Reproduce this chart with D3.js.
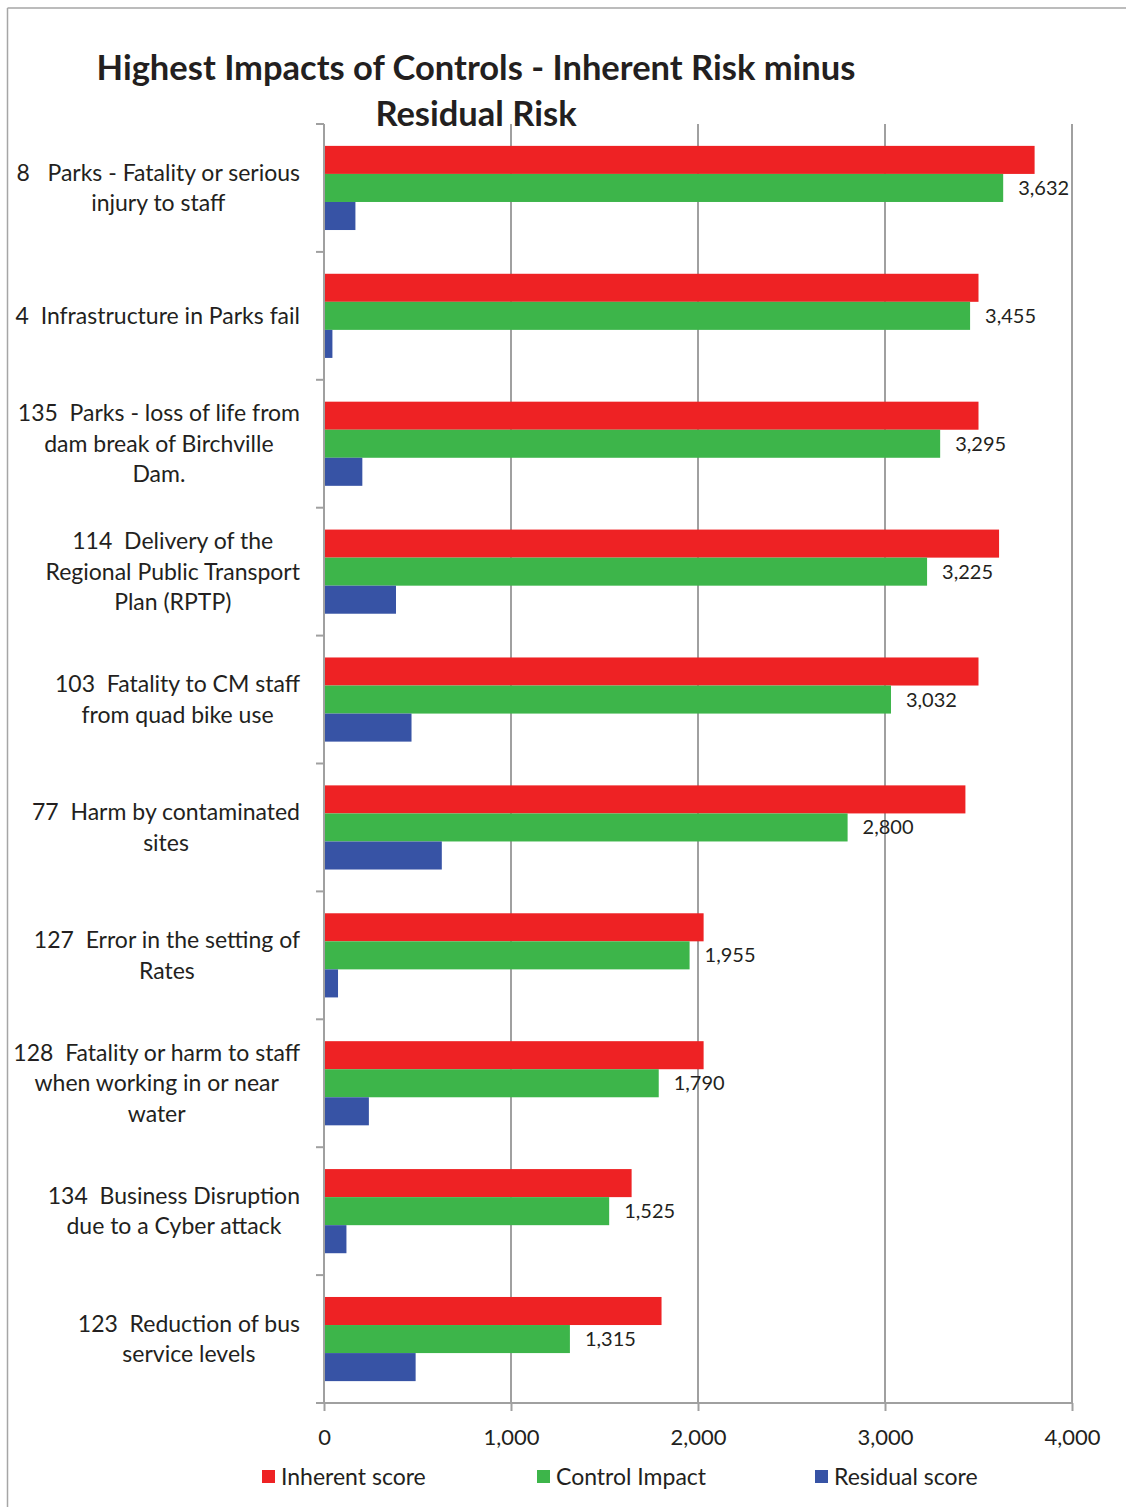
<!DOCTYPE html>
<html>
<head>
<meta charset="utf-8">
<script src="https://cdn.jsdelivr.net/npm/d3@7"></script>
<style>
  body { margin: 0; background: #fff; }
  text { font-family: Lato, "Open Sans", sans-serif; fill: #231f20; white-space: pre; }
</style>
</head>
<body>
<div id="chart"></div>
<script>
// chart data
var categories = [
    ['8   Parks - Fatality or serious', 'injury to staff'],
    ['4  Infrastructure in Parks fail'],
    ['135  Parks - loss of life from', 'dam break of Birchville', 'Dam.'],
    ['114  Delivery of the', 'Regional Public Transport', 'Plan (RPTP)'],
    ['103  Fatality to CM staff', 'from quad bike use'],
    ['77  Harm by contaminated', 'sites'],
    ['127  Error in the setting of', 'Rates'],
    ['128  Fatality or harm to staff', 'when working in or near', 'water'],
    ['134  Business Disruption', 'due to a Cyber attack'],
    ['123  Reduction of bus', 'service levels']
];
var inherentScore = [3800, 3500, 3500, 3610, 3500, 3430, 2030, 2030, 1645, 1805];
var controlImpact = [3632, 3455, 3295, 3225, 3032, 2800, 1955, 1790, 1525, 1315];
var residualScore = [168, 45, 205, 385, 468, 630, 75, 240, 120, 490];
var seriesNames = ['Inherent score', 'Control Impact', 'Residual score'];
var seriesColors = ['#ee2224', '#3db54a', '#3753a5'];
var xTicks = [0, 1000, 2000, 3000, 4000];

var W = 1126, H = 1507;
var margin = { left: 324, right: 54, top: 124, bottom: 104 };
var width = W - margin.left - margin.right;
var height = H - margin.top - margin.bottom;

var svg = d3.select('#chart').append('svg')
    .attr('width', W)
    .attr('height', H);

// outer frame (only top and left visible)
svg.append('line').attr('x1', 7.5).attr('y1', 8).attr('x2', W).attr('y2', 8)
    .attr('stroke', '#a6a6a6').attr('stroke-width', 1.5);
svg.append('line').attr('x1', 7.5).attr('y1', 8).attr('x2', 7.5).attr('y2', H)
    .attr('stroke', '#a6a6a6').attr('stroke-width', 1.5);

// title
var title = svg.append('text')
    .attr('text-anchor', 'middle')
    .style('font-weight', 'bold')
    .style('font-size', '34.5px');
title.append('tspan').attr('x', 476).attr('y', 80).text('Highest Impacts of Controls - Inherent Risk minus');
title.append('tspan').attr('x', 476).attr('y', 126).text('Residual Risk');

var g = svg.append('g')
    .attr('transform', 'translate(' + margin.left + ',' + margin.top + ')');

var xScale = d3.scaleLinear().domain([0, 4000]).range([0, width]);
var yScale = d3.scaleBand().domain(d3.range(categories.length)).range([0, height]);
var inner = d3.scaleBand().domain([0, 1, 2])
    .range([0, yScale.bandwidth()])
    .paddingOuter(0.78).paddingInner(0);

// gridlines
g.selectAll('.grid').data(xTicks.slice(1))
    .enter().append('line')
    .attr('class', 'grid')
    .attr('x1', function(d) { return xScale(d); })
    .attr('x2', function(d) { return xScale(d); })
    .attr('y1', 0).attr('y2', height)
    .attr('stroke', '#a0a0a0').attr('stroke-width', 2);

// bars
var series = [inherentScore, controlImpact, residualScore];
var groups = g.selectAll('.cat').data(categories)
    .enter().append('g')
    .attr('class', 'cat')
    .attr('transform', function(d, i) { return 'translate(0,' + yScale(i) + ')'; });

groups.each(function(d, i) {
    var grp = d3.select(this);
    series.forEach(function(s, k) {
        grp.append('rect')
            .attr('x', 0)
            .attr('y', inner(k))
            .attr('width', xScale(s[i]))
            .attr('height', inner.bandwidth())
            .attr('fill', seriesColors[k]);
    });
    // data label for control impact
    grp.append('text')
        .attr('x', xScale(controlImpact[i]) + 15)
        .attr('y', inner(1) + inner.bandwidth() / 2)
        .attr('dy', '0.35em')
        .style('font-size', '20px')
        .text(d3.format(',')(controlImpact[i]));
});

// x axis
var xAxis = g.append('g')
    .attr('transform', 'translate(0,' + height + ')')
    .call(d3.axisBottom(xScale).tickValues(xTicks).tickFormat(d3.format(',')).tickSize(8).tickSizeOuter(0));
xAxis.select('.domain').remove();
xAxis.append('line').attr('x1', -8).attr('x2', width).attr('y1', 0).attr('y2', 0)
    .attr('stroke', '#a0a0a0').attr('stroke-width', 2);
xAxis.selectAll('.tick line').attr('stroke', '#a0a0a0').attr('stroke-width', 2);
xAxis.selectAll('.tick text')
    .attr('y', 26)
    .attr('fill', '#231f20')
    .style('font-family', 'Lato, "Open Sans", sans-serif')
    .style('font-size', '22px');

// y axis line and category ticks
g.append('line').attr('x1', 0).attr('x2', 0).attr('y1', 0).attr('y2', height)
    .attr('stroke', '#a0a0a0').attr('stroke-width', 2);
g.selectAll('.ytick').data(d3.range(categories.length))
    .enter().append('line')
    .attr('x1', -8).attr('x2', 0)
    .attr('y1', function(i) { return yScale(i); })
    .attr('y2', function(i) { return yScale(i); })
    .attr('stroke', '#a0a0a0').attr('stroke-width', 2);

// category labels: block right edge at 300, each line centred in block
var lineH = 30.5;
groups.each(function(d, i) {
    var grp = d3.select(this);
    var lbl = grp.append('text')
        .attr('text-anchor', 'middle')
        .style('font-size', '23px');
    var spans = d.map(function(line, j) {
        return lbl.append('tspan').attr('y', 0).text(line);
    });
    var maxW = d3.max(spans, function(s) { return s.node().getComputedTextLength(); });
    var cx = -24 - maxW / 2;
    var top = yScale.bandwidth() / 2 - (d.length - 1) * lineH / 2;
    spans.forEach(function(s, j) {
        s.attr('x', cx).attr('y', top + j * lineH).attr('dy', '0.35em');
    });
});

// legend
var legendX = [262, 537, 815];
var legend = svg.selectAll('.legend').data(seriesNames)
    .enter().append('g')
    .attr('class', 'legend')
    .attr('transform', function(d, i) { return 'translate(' + legendX[i] + ',1477)'; });
legend.append('rect').attr('x', 0).attr('y', -7).attr('width', 13).attr('height', 13)
    .attr('fill', function(d, i) { return seriesColors[i]; });
legend.append('text').attr('x', 19).attr('y', 0).attr('dy', '0.35em')
    .style('font-size', '23px')
    .text(function(d) { return d; });
</script>
</body>
</html>
